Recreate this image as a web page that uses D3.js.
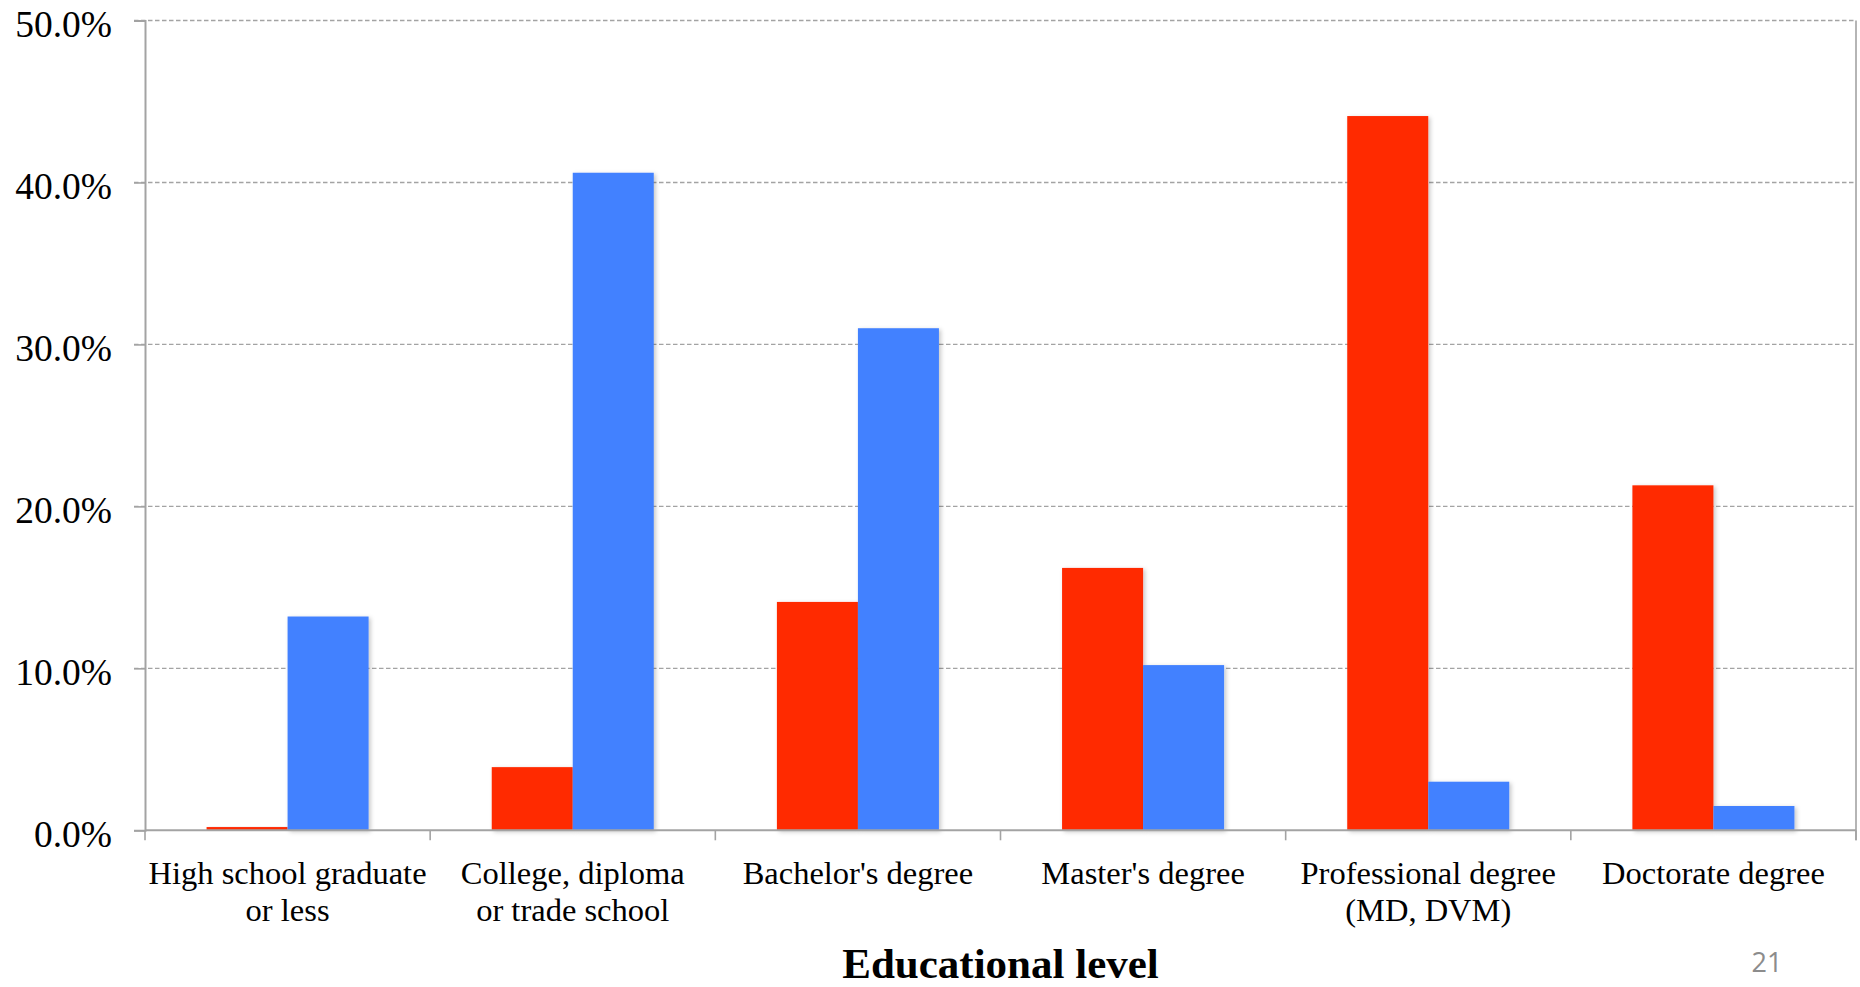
<!DOCTYPE html>
<html>
<head>
<meta charset="utf-8">
<script src="https://cdn.jsdelivr.net/npm/d3@7/dist/d3.min.js"></script>
<style>
  html, body { margin: 0; padding: 0; background: #ffffff; }
  svg { display: block; }
  text { font-family: "Liberation Serif", "Times New Roman", serif; fill: #000; }
</style>
</head>
<body>
<svg id="chart" width="1860" height="987"></svg>
<script>
// Share of each group by highest level of education
const categories = [
  ["High school graduate", "or less"],
  ["College, diploma", "or trade school"],
  ["Bachelor's degree"],
  ["Master's degree"],
  ["Professional degree", "(MD, DVM)"],
  ["Doctorate degree"]
];
const seriesNames = ["red", "blue"];
const seriesColors = ["#ff2a00", "#4281ff"];
const redValues  = [0.2, 3.9, 14.1, 16.2, 44.1, 21.3];
const blueValues = [13.2, 40.6, 31.0, 10.2, 3.0, 1.5];
const yTicks = [0, 10, 20, 30, 40, 50];
const xTitle = "Educational level";
const pageNumber = "21";

const svg = d3.select("#chart");
const margin = { left: 145, right: 4, top: 20.5, bottom: 156.7 };
const W = 1860, H = 987;
const plotLeft = margin.left, plotRight = W - margin.right;
const plotTop = margin.top, plotBottom = H - margin.bottom;

const keys = categories.map((c, i) => i);
const x0 = d3.scaleBand().domain(keys).range([plotLeft, plotRight]).padding(0);
const x1 = d3.scaleBand().domain(seriesNames).range([0, x0.bandwidth()])
  .paddingInner(0).paddingOuter(0.76);
const y = d3.scaleLinear().domain([0, 50]).range([plotBottom, plotTop]);

const gridColor = "#a3a3a3";

// drop shadow for the bars
const defs = svg.append("defs");
const f = defs.append("filter").attr("id", "barShadow")
  .attr("x", "-10%").attr("y", "-10%").attr("width", "130%").attr("height", "130%");
f.append("feDropShadow").attr("dx", 2).attr("dy", 1.5).attr("stdDeviation", 2)
  .attr("flood-color", "#000").attr("flood-opacity", 0.22);

// horizontal dashed gridlines
svg.append("g").selectAll("line").data(yTicks.filter(d => d > 0)).join("line")
  .attr("x1", plotLeft - 11).attr("x2", plotRight)
  .attr("y1", d => y(d)).attr("y2", d => y(d))
  .attr("stroke", gridColor).attr("stroke-width", 1.4)
  .attr("stroke-dasharray", "4.5,2.5");

// right border
svg.append("line")
  .attr("x1", plotRight).attr("x2", plotRight)
  .attr("y1", plotTop).attr("y2", plotBottom + 10)
  .attr("stroke", gridColor).attr("stroke-width", 1.6);

// bars
const groups = svg.append("g").selectAll("g").data(keys).join("g")
  .attr("transform", d => `translate(${x0(d)},0)`);
groups.selectAll("rect")
  .data(i => [
    { s: seriesNames[0], v: redValues[i], c: seriesColors[0] },
    { s: seriesNames[1], v: blueValues[i], c: seriesColors[1] }
  ])
  .join("rect")
  .attr("x", d => x1(d.s))
  .attr("width", x1.bandwidth())
  .attr("y", d => y(d.v))
  .attr("height", d => y(0) - y(d.v))
  .attr("fill", d => d.c)
  .attr("filter", "url(#barShadow)");

// y axis
const yAxis = d3.axisLeft(y).tickValues(yTicks).tickSize(11).tickPadding(22)
  .tickFormat(d => d3.format(".1f")(d) + "%");
const gy = svg.append("g").attr("transform", `translate(${plotLeft},0)`).call(yAxis);
gy.select(".domain").attr("stroke", gridColor).attr("stroke-width", 2);
gy.selectAll(".tick line").attr("stroke", gridColor).attr("stroke-width", 1.6);
gy.selectAll(".tick text")
  .attr("font-family", "Liberation Serif, Times New Roman, serif")
  .attr("font-size", 37.5).attr("fill", "#000").attr("dy", "0.42em");

// x axis: baseline and boundary ticks
const boundaries = keys.map(k => x0(k)).concat([plotRight]);
svg.append("line")
  .attr("x1", plotLeft).attr("x2", plotRight)
  .attr("y1", plotBottom).attr("y2", plotBottom)
  .attr("stroke", gridColor).attr("stroke-width", 2);
svg.append("g").selectAll("line").data(boundaries).join("line")
  .attr("x1", d => d).attr("x2", d => d)
  .attr("y1", plotBottom).attr("y2", plotBottom + 10)
  .attr("stroke", gridColor).attr("stroke-width", 1.6);

// category labels
const labels = svg.append("g").selectAll("text").data(keys).join("text")
  .attr("text-anchor", "middle")
  .attr("font-size", 32.5)
  .attr("x", d => x0(d) + x0.bandwidth() / 2)
  .attr("y", 883.5);
labels.selectAll("tspan").data(d => categories[d].map((t, j) => ({ t, j, d })))
  .join("tspan")
  .attr("x", d => x0(d.d) + x0.bandwidth() / 2)
  .attr("dy", d => d.j === 0 ? 0 : 37.5)
  .text(d => d.t);

// axis title
svg.append("text")
  .attr("x", (plotLeft + plotRight) / 2).attr("y", 978)
  .attr("text-anchor", "middle")
  .attr("font-size", 43).attr("font-weight", "bold")
  .text(xTitle);

// page number
svg.append("text")
  .attr("x", 1767).attr("y", 971.5)
  .attr("text-anchor", "middle")
  .style("font-family", "'Open Sans', 'Liberation Sans', sans-serif")
  .style("fill", "#8c8c8c")
  .attr("font-size", 27)
  .text(pageNumber);
</script>
</body>
</html>
